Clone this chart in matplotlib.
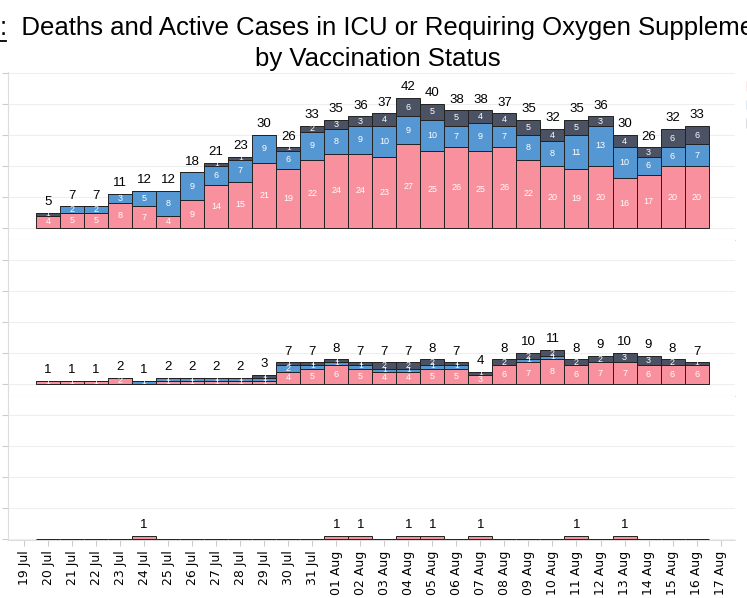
import numpy as np
import matplotlib.pyplot as plt
from matplotlib.patches import Patch

plt.rcParams['font.family'] = ['Liberation Sans', 'DejaVu Sans']

dates = ['20 Jul', '21 Jul', '22 Jul', '23 Jul', '24 Jul', '25 Jul', '26 Jul',
         '27 Jul', '28 Jul', '29 Jul', '30 Jul', '31 Jul', '01 Aug', '02 Aug',
         '03 Aug', '04 Aug', '05 Aug', '06 Aug', '07 Aug', '08 Aug', '09 Aug',
         '10 Aug', '11 Aug', '12 Aug', '13 Aug', '14 Aug', '15 Aug', '16 Aug']
tick_labels = ['19 Jul'] + dates + ['17 Aug']

# ICU / oxygen (top)
top_unvax = [4, 5, 5, 8, 7, 4, 9, 14, 15, 21, 19, 22, 24, 24, 23, 27, 25, 26, 25, 26, 22, 20, 19, 20, 16, 17, 20, 20]
top_part = [0, 2, 2, 3, 5, 8, 9, 6, 7, 9, 6, 9, 8, 9, 10, 9, 10, 7, 9, 7, 8, 8, 11, 13, 10, 6, 6, 7]
top_full = [1, 0, 0, 0, 0, 0, 0, 1, 1, 0, 1, 2, 3, 3, 4, 6, 5, 5, 4, 4, 5, 4, 5, 3, 4, 3, 6, 6]

# middle panel
mid_unvax = [1, 1, 1, 2, 0, 1, 1, 1, 1, 1, 4, 5, 6, 5, 4, 4, 5, 5, 3, 6, 7, 8, 6, 7, 7, 6, 6, 6]
mid_part = [0, 0, 0, 0, 1, 1, 1, 1, 1, 1, 2, 1, 1, 1, 1, 1, 1, 1, 0, 0, 1, 1, 0, 0, 0, 0, 0, 0]
mid_full = [0, 0, 0, 0, 0, 0, 0, 0, 0, 1, 1, 1, 1, 1, 2, 2, 2, 1, 1, 2, 2, 2, 2, 2, 3, 3, 2, 1]

# deaths (bottom)
bot_unvax = [0, 0, 0, 0, 1, 0, 0, 0, 0, 0, 0, 0, 1, 1, 0, 1, 1, 0, 1, 0, 0, 0, 1, 0, 1, 0, 0, 0]

PINK = '#f8919d'
BLUE = '#5597d2'
GREY = '#4b5263'

fig = plt.figure(figsize=(7.47, 5.98), dpi=100)
W, H = 747, 598
left, right = 8 / W, 735 / W


def panel(y_top, y_bot, base, series):
    ax = fig.add_axes([left, 1 - y_bot / H, right - left, (y_bot - y_top) / H])
    ppu = 3.1
    ax.set_ylim(-(y_bot - base) / ppu, (base - y_top) / ppu)
    ax.set_xlim(-0.67, 29.6)
    x = np.arange(1, 29)
    bottom = np.zeros(28)
    for vals, col in series:
        vals = np.array(vals)
        ax.bar(x, vals, width=1.0, bottom=bottom, color=col, edgecolor='#222222',
               linewidth=0.7, zorder=3)
        for xi, b, v in zip(x, bottom, vals):
            if v > 0 and len(series) > 1:
                ax.text(xi, b + v / 2, str(v), color='white', fontsize=6 if v < 2 else 6.5,
                        ha='center', va='center', zorder=4)
        bottom = bottom + vals
    for xi, t in zip(x, bottom):
        if t > 0:
            ax.text(xi, t + 1.5, str(int(t)), fontsize=9.5, ha='center',
                    va='bottom', zorder=4)
    ax.set_yticks(np.arange(0, ax.get_ylim()[1], 10))
    ax.tick_params(axis='y', labelleft=False, length=4, color='#cccccc')
    ax.grid(axis='y', color='#eeeeee', linewidth=0.8, zorder=0)
    for s in ['top', 'right']:
        ax.spines[s].set_visible(False)
    ax.spines['left'].set_color('#dddddd')
    ax.spines['bottom'].set_color('#dddddd')
    ax.set_xticks(np.arange(0, 30))
    return ax


ax1 = panel(72, 240, 228, [(top_unvax, PINK), (top_part, BLUE), (top_full, GREY)])
ax2 = panel(240, 396, 384, [(mid_unvax, PINK), (mid_part, BLUE), (mid_full, GREY)])
ax3 = panel(396, 540, 539, [(bot_unvax, PINK)])
for ax in (ax1, ax2):
    ax.tick_params(axis='x', labelbottom=False, length=0)
ax3.set_xticklabels(tick_labels, rotation=90, fontsize=9, family='DejaVu Sans')
ax3.tick_params(axis='x', length=4, color='#cccccc')

fig.text(0.0, 1 - 28 / H, ':  Deaths and Active Cases in ICU or Requiring Oxygen Supplementation',
         fontsize=18.5, ha='left', va='center')
fig.add_artist(plt.Line2D([0, 6 / W], [1 - 41 / H] * 2, color='black', linewidth=1.3))
fig.text(378 / W, 1 - 59 / H, 'by Vaccination Status', fontsize=18.5, ha='center', va='center')

fig.legend(handles=[Patch(color=PINK, label='Unvaccinated'),
                    Patch(color=BLUE, label='Partially vaccinated'),
                    Patch(color=GREY, label='Fully vaccinated')],
           loc='upper left', bbox_to_anchor=(736 / W, 1 - 70 / H), frameon=False,
           fontsize=9, handlelength=0.6, handleheight=0.8, labelspacing=0.5)

fig.savefig('out.png', dpi=100)
